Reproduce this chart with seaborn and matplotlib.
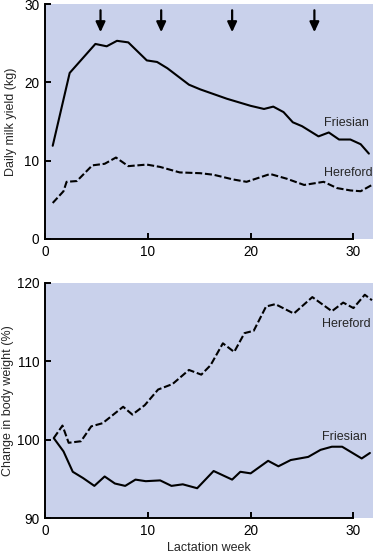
import matplotlib
matplotlib.use("Agg")
import matplotlib.pyplot as plt
import seaborn as sns
import pandas as pd

# ---- data ----
fr_milk_week = [0.75, 2.4, 4.9, 6.0, 7.0, 8.1, 9.9, 10.9, 11.9, 14.0, 15.1, 16.4, 17.7,
                20.0, 21.3, 22.2, 23.2, 24.1, 25.0, 26.6, 27.6, 28.6, 29.7, 30.7, 31.5]
fr_milk = [11.9, 21.2, 24.9, 24.6, 25.3, 25.1, 22.8, 22.6, 21.8, 19.7, 19.1, 18.5, 17.9,
           17.0, 16.6, 16.9, 16.2, 14.9, 14.4, 13.1, 13.6, 12.7, 12.7, 12.1, 10.9]
he_milk_week = [0.75, 1.8, 2.1, 3.1, 4.6, 5.8, 6.9, 8.1, 9.9, 11.2, 13.1, 15.1, 16.4,
                18.3, 19.6, 21.9, 23.5, 25.2, 27.1, 28.4, 29.7, 30.7, 31.8]
he_milk = [4.6, 6.1, 7.3, 7.4, 9.4, 9.6, 10.4, 9.3, 9.5, 9.2, 8.5, 8.4, 8.2,
           7.6, 7.3, 8.3, 7.7, 6.9, 7.3, 6.5, 6.2, 6.1, 6.9]
arrow_weeks = [5.4, 11.3, 18.2, 26.2]

fr_bw_week = [0.85, 1.8, 2.7, 3.7, 4.8, 5.8, 6.8, 7.8, 8.8, 9.8, 11.2, 12.3, 13.4, 14.8,
              16.4, 18.2, 19.0, 20.0, 21.7, 22.7, 23.9, 25.6, 26.8, 27.9, 28.9, 30.8, 31.6]
fr_bw = [100.2, 98.5, 95.9, 95.1, 94.1, 95.3, 94.4, 94.1, 94.9, 94.7, 94.8, 94.1, 94.3, 93.8,
         96.0, 94.9, 95.9, 95.7, 97.3, 96.6, 97.4, 97.8, 98.7, 99.1, 99.1, 97.6, 98.3]
he_bw_week = [0.85, 1.7, 2.3, 3.5, 4.5, 5.6, 7.6, 8.5, 9.7, 11.0, 12.4, 14.0, 15.2, 16.1,
              17.3, 18.4, 19.4, 20.3, 21.5, 22.4, 24.2, 26.0, 27.9, 29.0, 30.0, 31.1, 31.8]
he_bw = [100.2, 101.8, 99.6, 99.8, 101.7, 102.1, 104.2, 103.2, 104.4, 106.4, 107.1, 108.9,
         108.3, 109.5, 112.3, 111.2, 113.6, 113.9, 117.0, 117.3, 116.1, 118.2, 116.4, 117.5,
         116.8, 118.5, 117.8]

milk = pd.concat([
    pd.DataFrame({"week": fr_milk_week, "value": fr_milk, "breed": "Friesian"}),
    pd.DataFrame({"week": he_milk_week, "value": he_milk, "breed": "Hereford"}),
])
bw = pd.concat([
    pd.DataFrame({"week": fr_bw_week, "value": fr_bw, "breed": "Friesian"}),
    pd.DataFrame({"week": he_bw_week, "value": he_bw, "breed": "Hereford"}),
])

sns.set_style("ticks")
plt.rcParams["font.family"] = ["Liberation Sans", "DejaVu Sans"]

bg = "#c9d1eb"
W, H = 373, 556
fig = plt.figure(figsize=(W / 100, H / 100), dpi=100)
ax1 = fig.add_axes([45 / W, 1 - 239 / H, 328 / W, 235 / H])
ax2 = fig.add_axes([45 / W, 1 - 518 / H, 328 / W, 235 / H])

palette = {"Friesian": "black", "Hereford": "black"}
styles = {"Friesian": "", "Hereford": (3.4, 1.3)}

for ax, df in [(ax1, milk), (ax2, bw)]:
    sns.lineplot(data=df, x="week", y="value", hue="breed", style="breed",
                 palette=palette, dashes=styles, linewidth=1.5, legend=False,
                 ax=ax, sort=False, estimator=None)
    ax.set_facecolor(bg)
    ax.set_xlim(0, 31.9)
    ax.set_xticks([0, 10, 20, 30])
    ax.spines["top"].set_visible(False)
    ax.spines["right"].set_visible(False)
    ax.spines["bottom"].set_bounds(0, 30)
    for s in ("left", "bottom"):
        ax.spines[s].set_linewidth(1.4)
        ax.spines[s].set_color("black")
    ax.tick_params(direction="in", length=4, width=1.4, labelsize=9.8, pad=4,
                   colors="black")
    ax.set_xlabel("")

ax1.set_ylim(0, 30)
ax1.set_yticks([0, 10, 20, 30])
ax1.set_ylabel("Daily milk yield (kg)", fontsize=9, labelpad=5)
ax2.set_ylim(90, 120)
ax2.set_yticks([90, 100, 110, 120])
ax2.set_ylabel("Change in body weight (%)", fontsize=9, labelpad=2)
ax2.set_xlabel("Lactation week", fontsize=9, labelpad=3)

for wk in arrow_weeks:
    ax1.annotate("", xy=(wk, 26.4), xytext=(wk, 29.2),
                 arrowprops=dict(arrowstyle="-|>,head_length=0.6,head_width=0.28",
                                 color="black", lw=1.6, shrinkA=0, shrinkB=0))

ax1.text(27.1, 14.8, "Friesian", fontsize=9, va="center", ha="left")
ax1.text(27.1, 8.4, "Hereford", fontsize=9, va="center", ha="left")
ax2.text(26.9, 114.8, "Hereford", fontsize=9, va="center", ha="left")
ax2.text(26.9, 100.4, "Friesian", fontsize=9, va="center", ha="left")

fig.savefig("out.png", dpi=100)
